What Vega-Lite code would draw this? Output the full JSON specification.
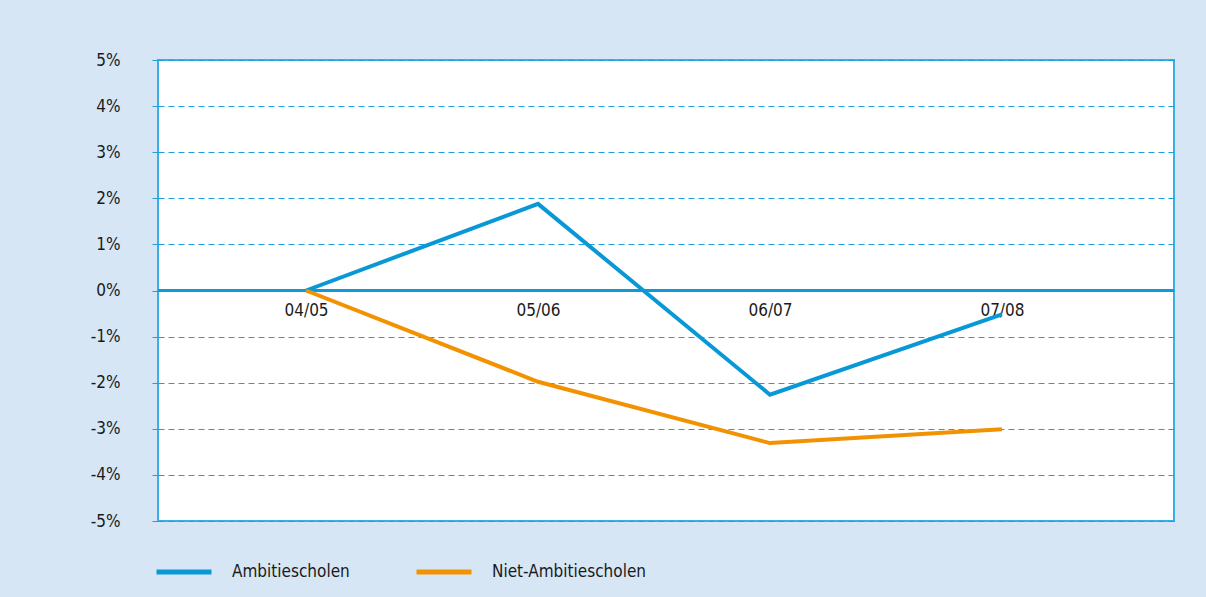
{
  "$schema": "https://vega.github.io/schema/vega-lite/v6.json",
  "width": 1016,
  "height": 461,
  "autosize": {"type": "none"},
  "padding": {"left": 158, "top": 60, "right": 32, "bottom": 76},
  "background": "#d6e6f5",
  "config": {
    "font": "'DejaVu Sans Condensed', 'Liberation Sans', sans-serif",
    "view": {"fill": "white", "stroke": "#3aaee6", "strokeWidth": 2}
  },
  "data": {
    "values": [
      {"jaar": "04/05", "groep": "Ambitiescholen", "waarde": 0.0},
      {"jaar": "05/06", "groep": "Ambitiescholen", "waarde": 1.88},
      {"jaar": "06/07", "groep": "Ambitiescholen", "waarde": -2.26},
      {"jaar": "07/08", "groep": "Ambitiescholen", "waarde": -0.52},
      {"jaar": "04/05", "groep": "Niet-Ambitiescholen", "waarde": 0.0},
      {"jaar": "05/06", "groep": "Niet-Ambitiescholen", "waarde": -1.98},
      {"jaar": "06/07", "groep": "Niet-Ambitiescholen", "waarde": -3.31},
      {"jaar": "07/08", "groep": "Niet-Ambitiescholen", "waarde": -3.01}
    ]
  },
  "layer": [
    {
      "mark": {"type": "rule", "color": "#0f9ad9", "strokeWidth": 2},
      "encoding": {"y": {"datum": 0, "type": "quantitative"}}
    },
    {
      "mark": {"type": "line", "strokeWidth": 4, "strokeCap": "butt"},
      "encoding": {
        "x": {
          "field": "jaar",
          "type": "ordinal",
          "sort": null,
          "scale": {"type": "point", "padding": 0.69, "align": 0.4625},
          "axis": {
            "title": null,
            "labelAngle": 0,
            "offset": -230.5,
            "domain": false,
            "ticks": false,
            "labelPadding": 12,
            "labelFontSize": 17,
            "labelColor": "#1a1a1a"
          }
        },
        "y": {
          "field": "waarde",
          "type": "quantitative",
          "scale": {"domain": [-5, 5], "nice": false},
          "axis": {
            "title": null,
            "values": [-5, -4, -3, -2, -1, 0, 1, 2, 3, 4, 5],
            "labelExpr": "datum.value + '%'",
            "domain": false,
            "tickSize": 10,
            "tickColor": "#1aa0dc",
            "tickDash": [6, 4],
            "labelPadding": 28,
            "labelFontSize": 17,
            "labelColor": "#1a1a1a",
            "grid": true,
            "gridColor": "#1aa0dc",
            "gridDash": [6, 4],
            "gridWidth": 1,
            "gridOpacity": 1
          }
        },
        "color": {
          "field": "groep",
          "type": "nominal",
          "scale": {"domain": ["Ambitiescholen", "Niet-Ambitiescholen"], "range": ["#0898d6", "#f39200"]},
          "legend": {
            "title": null,
            "orient": "none",
            "direction": "horizontal",
            "legendX": -4,
            "legendY": 482,
            "symbolType": "stroke",
            "symbolSize": 3025,
            "symbolStrokeWidth": 5,
            "labelFontSize": 17,
            "labelColor": "#1a1a1a",
            "labelOffset": 18,
            "columnPadding": 56
          }
        }
      }
    }
  ]
}
